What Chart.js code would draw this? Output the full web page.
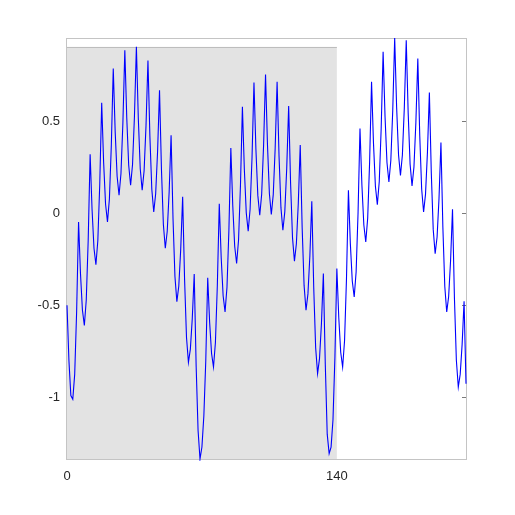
<!DOCTYPE html>
<html>
<head>
<meta charset="utf-8">
<script src="https://cdn.jsdelivr.net/npm/chart.js@4"></script>
<style>
  html, body { margin: 0; padding: 0; background: #fff; }
  #wrap { width: 515px; height: 515px; }
</style>
</head>
<body>
<div id="wrap"><canvas id="chart" width="515" height="515"></canvas></div>
<script>
// signal values, one per sample (x = 0, 1, 2, ...)
const values = [
  -0.5, -0.8, -0.99, -1.01, -0.874, -0.534,
  -0.047, -0.329, -0.526, -0.61, -0.47, -0.145,
  0.32, 0.02, -0.19, -0.28, -0.148, 0.16,
  0.60, 0.277, 0.05, -0.047, 0.078, 0.37,
  0.786, 0.442, 0.201, 0.098, 0.216, 0.492,
  0.886, 0.519, 0.262, 0.152, 0.265, 0.528,
  0.904, 0.515, 0.242, 0.125, 0.231, 0.478,
  0.83, 0.419, 0.13, 0.007, 0.106, 0.337,
  0.668, 0.239, -0.061, -0.19, -0.098, 0.117,
  0.424, -0.028, -0.344, -0.48, -0.395, -0.195,
  0.089, -0.36, -0.675, -0.81, -0.738, -0.57,
  -0.33, -0.83, -1.18, -1.335, -1.27, -1.1, -0.8,
  -0.35, -0.592, -0.762, -0.835, -0.702, -0.39,
  0.052, -0.242, -0.448, -0.536, -0.402, -0.09,
  0.355, 0.041, -0.179, -0.273, -0.145, 0.153,
  0.578, 0.24, 0.003, -0.098, 0.023, 0.306,
  0.71, 0.349, 0.097, -0.011, 0.104, 0.372,
  0.754, 0.373, 0.107, -0.007, 0.101, 0.353,
  0.714, 0.311, 0.029, -0.092, 0.009, 0.246,
  0.583, 0.162, -0.134, -0.26, -0.166, 0.055,
  0.37, -0.079, -0.392, -0.527, -0.438, -0.231,
  0.065, -0.403, -0.731, -0.871, -0.79, -0.6,
  -0.328, -0.82, -1.2, -1.306, -1.27, -1.12, -0.78,
  -0.30, -0.568, -0.755, -0.835, -0.691, -0.355,
  0.125, -0.165, -0.368, -0.455, -0.318, 0.003,
  0.46, 0.152, -0.064, -0.156, -0.026, 0.279,
  0.714, 0.381, 0.147, 0.047, 0.172, 0.462,
  0.877, 0.524, 0.276, 0.17, 0.287, 0.56,
  0.952, 0.578, 0.318, 0.206, 0.316, 0.573,
  0.94, 0.544, 0.267, 0.148, 0.252, 0.494,
  0.84, 0.424, 0.132, 0.007, 0.104, 0.332,
  0.656, 0.218, -0.089, -0.22, -0.129, 0.082,
  0.384, -0.076, -0.398, -0.536, -0.452, -0.257,
  0.022, -0.461, -0.799, -0.944, -0.874, -0.711,
  -0.478, -0.926
];

const xTicks = [0, 140];
const yTicks = [-1, -0.5, 0, 0.5];
// shaded window covers samples 0..140
const windowStart = 0;
const windowEnd = 140;

const points = values.map((v, i) => ({ x: i, y: v }));
const yMin = Math.min(...values);
const yMax = Math.max(...values);
const windowMax = Math.max(...values.slice(windowStart, windowEnd + 1));

// gray window + plot box, both behind the line
const backgroundPlugin = {
  id: "background",
  beforeDatasetsDraw(chart) {
    const { ctx, chartArea, scales } = chart;
    const x0 = scales.x.getPixelForValue(windowStart);
    const x1 = scales.x.getPixelForValue(windowEnd);
    const yTop = scales.y.getPixelForValue(windowMax);
    ctx.save();
    ctx.fillStyle = "#e3e3e3";
    ctx.fillRect(x0, yTop, x1 - x0, chartArea.bottom - yTop);
    ctx.strokeStyle = "#bdbdbd";
    ctx.lineWidth = 1;
    ctx.beginPath();
    ctx.moveTo(x0, Math.round(yTop) + 0.5);
    ctx.lineTo(x1, Math.round(yTop) + 0.5);
    ctx.stroke();

    ctx.strokeStyle = "#c4c4c4";
    ctx.strokeRect(
      Math.round(chartArea.left) - 0.5,
      Math.round(chartArea.top) + 0.5,
      Math.round(chartArea.right - chartArea.left) + 1,
      Math.round(chartArea.bottom - chartArea.top)
    );
    // inward ticks on the right edge
    ctx.strokeStyle = "#7a7a7a";
    ctx.beginPath();
    yTicks.forEach((t) => {
      const y = Math.round(scales.y.getPixelForValue(t)) + 0.5;
      ctx.moveTo(chartArea.right, y);
      ctx.lineTo(chartArea.right - 4, y);
    });
    ctx.stroke();
    ctx.restore();
  },
};

new Chart(document.getElementById("chart"), {
  type: "line",
  data: {
    datasets: [
      {
        data: points,
        borderColor: "#0000ff",
        borderWidth: 1.1,
        pointRadius: 0,
        tension: 0,
        fill: false,
        clip: 2,
      },
    ],
  },
  options: {
    responsive: false,
    animation: false,
    events: [],
    layout: { padding: { left: 0, right: 49, top: 38, bottom: 26 } },
    plugins: { legend: { display: false }, tooltip: { enabled: false } },
    scales: {
      x: {
        type: "linear",
        min: 0,
        max: values.length - 1,
        grid: { display: false, drawTicks: false },
        border: { display: false },
        afterBuildTicks: (scale) => {
          scale.ticks = xTicks.map((v) => ({ value: v }));
        },
        afterFit: (scale) => { scale.height = 30; },
        ticks: {
          padding: 10,
          maxRotation: 0,
          color: "#262626",
          font: { family: "Liberation Sans, Arial, sans-serif", size: 13 },
          callback: (v) => String(v),
        },
      },
      y: {
        min: yMin,
        max: yMax,
        grid: { display: false, drawTicks: false },
        border: { display: false },
        afterBuildTicks: (scale) => {
          scale.ticks = yTicks.map((v) => ({ value: v }));
        },
        afterFit: (scale) => { scale.width = 67; },
        ticks: {
          padding: 7,
          color: "#262626",
          font: { family: "Liberation Sans, Arial, sans-serif", size: 13 },
          callback: (v) => String(v),
        },
      },
    },
  },
  plugins: [backgroundPlugin],
});
</script>
</body>
</html>
